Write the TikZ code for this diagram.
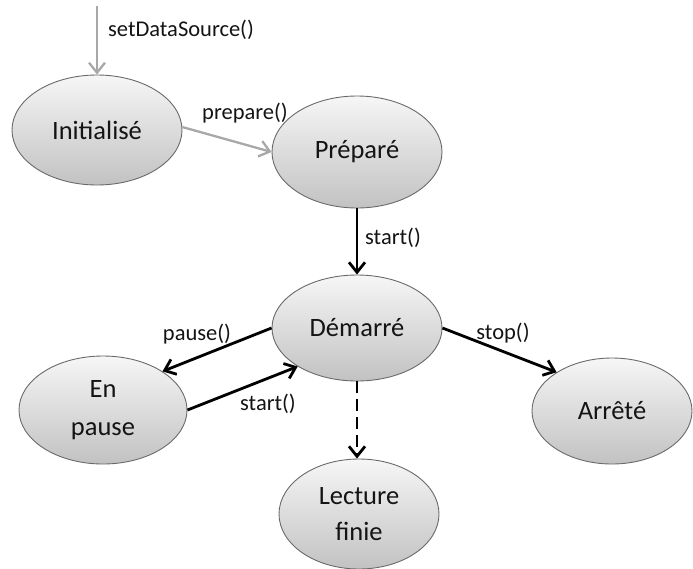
\documentclass[tikz,border=0pt]{standalone}
\usepackage{fontspec}
\setmainfont{Carlito}
\usetikzlibrary{arrows.meta,shadings,shapes.geometric}
\definecolor{statetop}{HTML}{F6F6F6}
\definecolor{statebot}{HTML}{C2C2C2}
\definecolor{stateline}{HTML}{6A6A6A}
\definecolor{initarrow}{HTML}{A8A8A8}
\definecolor{txt}{HTML}{141414}
\begin{document}
\begin{tikzpicture}[x=1pt,y=-1pt,
  state/.style={ellipse,draw=stateline,line width=0.9pt,top color=statetop,bottom color=statebot,
    inner sep=0pt,font=\fontsize{26.5}{30}\selectfont,text=txt,align=center},
  lbl/.style={font=\fontsize{22.5}{25}\selectfont,text=txt,inner sep=0pt},
  trans/.style={line width=2.8pt,-{Straight Barb[length=10pt,width=16pt,line width=2.8pt]}},
  ghost/.style={line width=2.3pt,draw=initarrow,-{Straight Barb[length=10pt,width=16pt,line width=2.3pt]}}]
\useasboundingbox (0,0) rectangle (693,568);
% states
\node[state,minimum width=170pt,minimum height=110pt] (ini) at (97,130) {Initialisé};
\node[state,minimum width=170pt,minimum height=112pt] (prep) at (357,152) {Préparé};
\node[state,minimum width=170pt,minimum height=106pt] (dem) at (357,328) {Démarré};
\node[state,minimum width=168pt,minimum height=108pt] (pau) at (103,410) {En\\[8pt]pause};
\node[state,minimum width=160pt,minimum height=106pt] (arr) at (612,411) {Arrêté};
\node[state,minimum width=160pt,minimum height=110pt] (lec) at (359,514) {Lecture\\[6pt]finie};
% entry point
\coordinate (src) at (97,6);
% transitions
\draw[ghost] (src) -- (ini.north);
\draw[ghost] (ini.2) -- (prep.180);
\draw[trans] (prep.south) -- (dem.north);
\draw[trans] (dem.west) -- (pau.33);
\draw[trans] (pau.east) -- (dem.213);
\draw[trans] (dem.east) -- (arr.145);
\draw[trans,dash pattern=on 12pt off 6pt] (dem.south) -- (dem.south |- lec.north);
% transition labels
\node[lbl] (l1) at (181,30) {setDataSource()};
\node[lbl] (l2) at (245,113) {prepare()};
\node[lbl] (l3) at (393,238) {start()};
\node[lbl] (l4) at (197,334) {pause()};
\node[lbl] (l5) at (268,404) {start()};
\node[lbl] (l6) at (503,333) {stop()};
\end{tikzpicture}
\end{document}
